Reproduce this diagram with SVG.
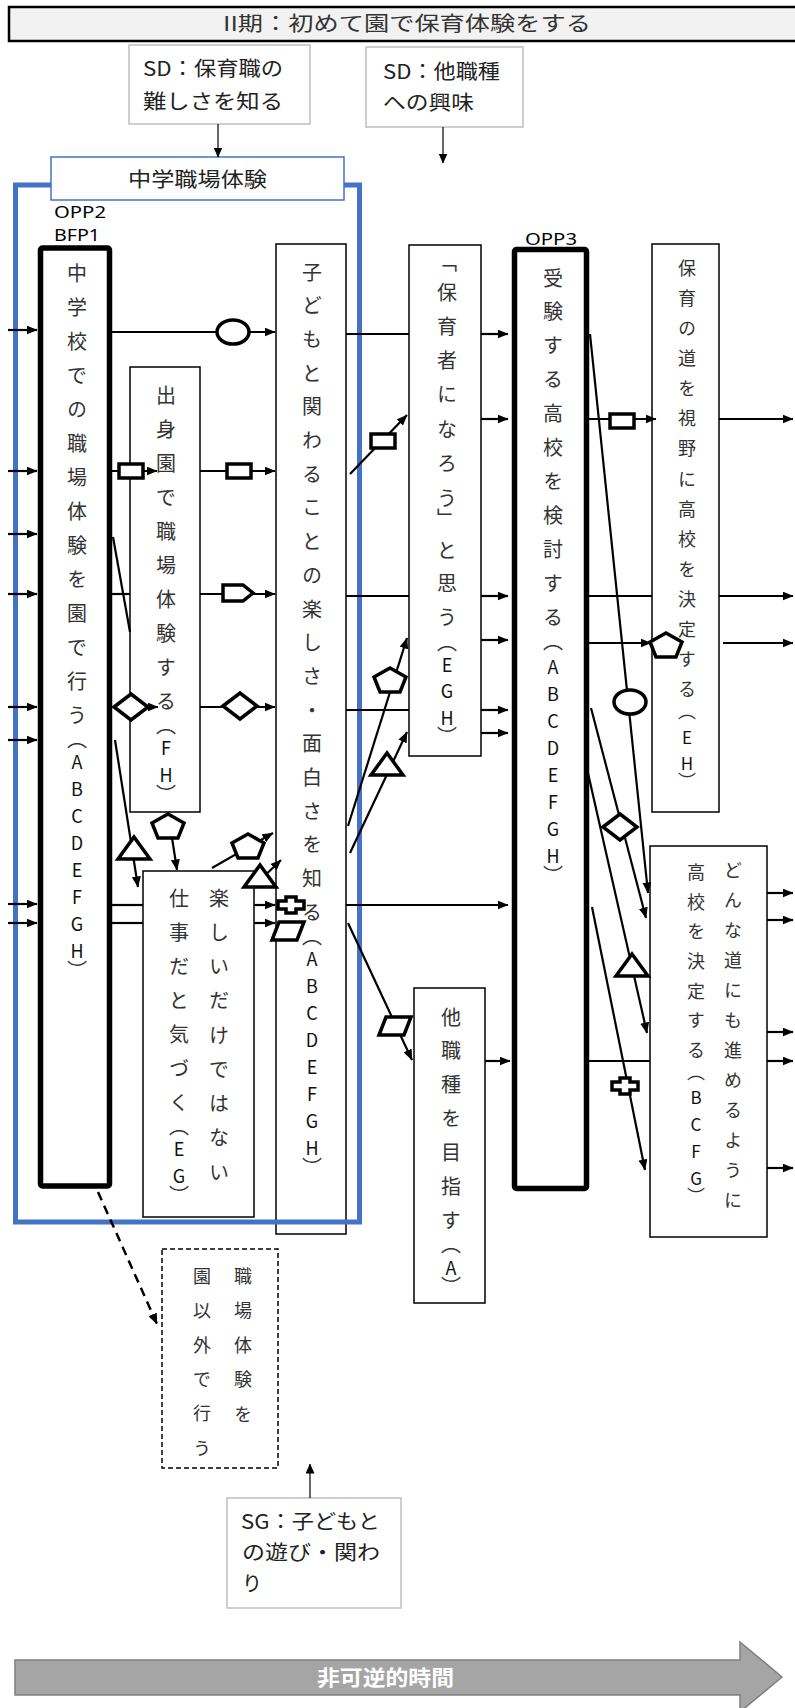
<svg xmlns="http://www.w3.org/2000/svg" width="795" height="1708" viewBox="0 0 795 1708">
<style>
.box{fill:#fff;stroke:#000;stroke-width:1.5}
.thick{fill:#fff;stroke:#000;stroke-width:5.5}
.sd{fill:#fff;stroke:#bfbfbf;stroke-width:1.5}
.ht{font-family:"Noto Sans CJK JP","Noto Sans",sans-serif;font-size:20px;fill:#222}
.vv{font-family:"Noto Sans CJK JP",sans-serif;font-size:20px;fill:#333;writing-mode:vertical-rl;text-orientation:upright;dominant-baseline:central}
.s18{font-size:18px}
.vl{font-size:18px;fill:#111}
.vl17{font-size:17px;fill:#111}
.lbl{font-family:"Noto Sans",sans-serif;font-size:17px;fill:#000}
.ln{stroke:#000;stroke-width:2.2;fill:none}
.ar{marker-end:url(#ah)}
.mk{fill:#fff;stroke:#000;stroke-width:3.5;stroke-linejoin:miter}
</style>
<defs>
<marker id="ah" viewBox="0 0 11 9" refX="10.5" refY="4.5" markerWidth="11" markerHeight="9" markerUnits="userSpaceOnUse" orient="auto"><path d="M0,0 L11,4.5 L0,9 Z" fill="#000"/></marker>
<marker id="ahs" viewBox="0 0 10 9" refX="9.5" refY="4.5" markerWidth="10" markerHeight="9" markerUnits="userSpaceOnUse" orient="auto"><path d="M0,0 L10,4.5 L0,9 Z" fill="#000"/></marker>
<ellipse id="m-ell" rx="16" ry="12" class="mk"/>
<rect id="m-rect" x="-12" y="-7" width="24" height="14" class="mk"/>
<path id="m-home" d="M-15,-8 H5 L15,0 L5,8 H-15 Z" class="mk"/>
<path id="m-dia" d="M-17,0 L0,-13 L17,0 L0,13 Z" class="mk"/>
<path id="m-tri" d="M0,-11 L16,11 L-16,11 Z" class="mk"/>
<path id="m-pent" d="M0,-12 L16,-3 L10,12 L-10,12 L-16,-3 Z" class="mk"/>
<path id="m-cross" d="M-5,-8 H5 V-4 H13 V4 H5 V8 H-5 V4 H-13 V-4 H-5 Z" class="mk"/>
<path id="m-par" d="M-9,-9 H16 L9,9 H-16 Z" class="mk"/>
</defs>

<g id="title">
<rect x="9" y="7" width="800" height="34" fill="#f2f2f2" stroke="#000" stroke-width="2.5"/>
<text class="ht" x="223" y="31" textLength="368" lengthAdjust="spacingAndGlyphs" style="fill:#333">II期：初めて園で保育体験をする</text>
</g>

<g id="sd1">
<rect class="sd" x="129" y="45" width="181" height="79"/>
<text class="ht" x="143" y="76" textLength="140" lengthAdjust="spacingAndGlyphs">SD：保育職の</text>
<text class="ht" x="143" y="109" textLength="140" lengthAdjust="spacingAndGlyphs">難しさを知る</text>
</g>
<g id="sd2">
<rect class="sd" x="366" y="47" width="157" height="80"/>
<text class="ht" x="383" y="79" textLength="117" lengthAdjust="spacingAndGlyphs">SD：他職種</text>
<text class="ht" x="383" y="110" textLength="91" lengthAdjust="spacingAndGlyphs">への興味</text>
</g>

<g id="n1">
<rect class="thick" x="40.5" y="248" width="69" height="938" rx="2"/>
<text class="vv" x="77" y="263"><tspan style="letter-spacing:14px">中学校での職場体験を園で行</tspan><tspan style="letter-spacing:4px">う（</tspan><tspan class="vl" style="letter-spacing:9px">ABCDEFG</tspan><tspan class="vl">H</tspan>）</text>
</g>
<g id="n2">
<rect class="box" x="130" y="367" width="70" height="445"/>
<text class="vv" x="166" y="385"><tspan style="letter-spacing:14px">出身園で職場体験す</tspan><tspan style="letter-spacing:4px">る（</tspan><tspan class="vl" style="letter-spacing:9px">F</tspan><tspan class="vl">H</tspan>）</text>
</g>
<g id="n3">
<rect class="box" x="276" y="244" width="70" height="990"/>
<text class="vv" x="312" y="262"><tspan style="letter-spacing:13.7px">子どもと関わることの楽しさ・面白さを知</tspan><tspan style="letter-spacing:4px">る（</tspan><tspan class="vl" style="letter-spacing:9px">ABCDEFG</tspan><tspan class="vl">H</tspan>）</text>
</g>
<g id="n4">
<rect class="box" x="143" y="871" width="111" height="346"/>
<text class="vv" x="219" y="888" style="letter-spacing:14.25px">楽しいだけではない</text>
<text class="vv" x="179" y="888"><tspan style="letter-spacing:14px">仕事だと気づ</tspan><tspan style="letter-spacing:4px">く（</tspan><tspan class="vl" style="letter-spacing:9px">E</tspan><tspan class="vl">G</tspan>）</text>
</g>
<g id="n5">
<rect class="box" x="409" y="245" width="72" height="511"/>
<text class="vv" x="447" y="252"><tspan style="letter-spacing:10px">「</tspan><tspan style="letter-spacing:14.3px">保育者になろ</tspan><tspan>う</tspan><tspan style="letter-spacing:12px">」</tspan><tspan style="letter-spacing:13.5px">と思</tspan><tspan style="letter-spacing:5px">う</tspan><tspan style="letter-spacing:4px">（</tspan><tspan class="vl" style="letter-spacing:8.5px">EG</tspan><tspan class="vl">H</tspan>）</text>
</g>
<g id="n6">
<rect class="thick" x="514.5" y="249.5" width="72" height="939" rx="2"/>
<text class="vv" x="553" y="268"><tspan style="letter-spacing:13.9px">受験する高校を検討す</tspan><tspan style="letter-spacing:4px">る</tspan><tspan style="letter-spacing:7px">（</tspan><tspan class="vl" style="letter-spacing:9px">ABCDEFG</tspan><tspan class="vl">H</tspan>）</text>
</g>
<g id="n7">
<rect class="box" x="652" y="244" width="67" height="568"/>
<text class="vv s18" x="687" y="259"><tspan style="letter-spacing:12.1px">保育の道を視野に高校を決定す</tspan><tspan style="letter-spacing:4px">る</tspan><tspan style="letter-spacing:8.5px">（</tspan><tspan class="vl17" style="letter-spacing:9px">E</tspan><tspan class="vl17">H</tspan>）</text>
</g>
<g id="n8">
<rect class="box" x="650" y="846" width="117" height="391"/>
<text class="vv s18" x="733" y="861" style="letter-spacing:12px">どんな道にも進めるように</text>
<text class="vv s18" x="696" y="863"><tspan style="letter-spacing:11.7px">高校を決定す</tspan><tspan style="letter-spacing:4px">る</tspan><tspan style="letter-spacing:7.5px">（</tspan><tspan class="vl17" style="letter-spacing:10px">BCF</tspan><tspan class="vl17">G</tspan>）</text>
</g>
<g id="n9">
<rect class="box" x="414" y="988" width="71" height="315"/>
<text class="vv" x="451" y="1007"><tspan style="letter-spacing:13.8px">他職種を目指</tspan><tspan style="letter-spacing:4px">す</tspan><tspan style="letter-spacing:5px">（</tspan><tspan class="vl">A</tspan>）</text>
</g>
<g id="n10">
<rect x="162" y="1249" width="116" height="219" fill="#fff" stroke="#000" stroke-width="1.5" stroke-dasharray="5 3"/>
<text class="vv s18" x="243" y="1267" style="letter-spacing:16.5px">職場体験を</text>
<text class="vv s18" x="202" y="1267" style="letter-spacing:16.4px">園以外で行う</text>
</g>
<g id="sg">
<rect class="sd" x="227" y="1498" width="174" height="110"/>
<text class="ht" x="241" y="1529" textLength="139" lengthAdjust="spacingAndGlyphs">SG：子どもと</text>
<text class="ht" x="242" y="1560" textLength="138" lengthAdjust="spacingAndGlyphs">の遊び・関わ</text>
<text class="ht" x="242" y="1591">り</text>
</g>

<g id="frame">
<rect x="15.5" y="185" width="344" height="1037" fill="none" stroke="#4472c4" stroke-width="5"/>
</g>
<g id="label">
<rect x="51" y="157" width="293" height="43" fill="#fff" stroke="#4472c4" stroke-width="1.5"/>
<text class="ht" x="128" y="187" textLength="139" lengthAdjust="spacingAndGlyphs">中学職場体験</text>
</g>
<g id="opp-labels">
<text class="lbl" x="54" y="218" textLength="52" lengthAdjust="spacingAndGlyphs">OPP2</text>
<text class="lbl" x="54" y="241" textLength="46" lengthAdjust="spacingAndGlyphs">BFP1</text>
<text class="lbl" x="525" y="245" textLength="52" lengthAdjust="spacingAndGlyphs">OPP3</text>
</g>

<g id="time">
<polygon points="15,1660 740,1660 740,1642 782,1677 740,1712 740,1695 15,1695" fill="#a5a5a5" stroke="#7f7f7f" stroke-width="1.5"/>
<text x="317" y="1685" textLength="137" lengthAdjust="spacingAndGlyphs" style="font-family:'Noto Sans CJK JP',sans-serif;font-size:21px;font-weight:bold;fill:#fff">非可逆的時間</text>
</g>

<g id="connectors">
<line x1="218" y1="124" x2="218" y2="157" stroke="#000" stroke-width="1.2" marker-end="url(#ahs)"/>
<line x1="443" y1="127" x2="443" y2="163" stroke="#000" stroke-width="1.2" marker-end="url(#ahs)"/>
<line x1="310" y1="1498" x2="310" y2="1464" stroke="#000" stroke-width="1.2" marker-end="url(#ahs)"/>
<line x1="98" y1="1192" x2="157" y2="1324" stroke="#000" stroke-width="2.5" stroke-dasharray="9 6" marker-end="url(#ah)"/>

<line class="ln ar" x1="8" y1="330" x2="37" y2="330"/>
<line class="ln ar" x1="8" y1="471" x2="37" y2="471"/>
<line class="ln ar" x1="8" y1="534" x2="37" y2="534"/>
<line class="ln ar" x1="8" y1="594" x2="37" y2="594"/>
<line class="ln ar" x1="8" y1="707" x2="37" y2="707"/>
<line class="ln ar" x1="8" y1="740" x2="37" y2="740"/>
<line class="ln ar" x1="8" y1="904" x2="37" y2="904"/>
<line class="ln ar" x1="8" y1="923" x2="37" y2="923"/>

<line class="ln ar" x1="112" y1="332" x2="275" y2="332"/>
<use href="#m-ell" x="233" y="332"/>
<line class="ln ar" x1="112" y1="471" x2="157" y2="471"/>
<use href="#m-rect" x="131" y="471"/>
<line class="ln ar" x1="200" y1="471" x2="275" y2="471"/>
<use href="#m-rect" x="239" y="471"/>
<line class="ln" x1="112" y1="594" x2="130" y2="594"/>
<line class="ln ar" x1="200" y1="594" x2="275" y2="594"/>
<use href="#m-home" x="238" y="593"/>
<line class="ln ar" x1="112" y1="707" x2="158" y2="707"/>
<use href="#m-dia" x="131" y="707"/>
<line class="ln ar" x1="200" y1="707" x2="275" y2="707"/>
<use href="#m-dia" x="240" y="706"/>
<line class="ln" x1="113" y1="537" x2="130" y2="632"/>
<line class="ln ar" x1="115" y1="740" x2="138" y2="887"/>
<use href="#m-tri" x="134" y="848"/>
<line class="ln ar" x1="168" y1="812" x2="177" y2="870"/>
<use href="#m-pent" x="168" y="826"/>
<line class="ln ar" x1="212" y1="868" x2="273" y2="833"/>
<use href="#m-pent" x="248" y="846"/>
<line class="ln ar" x1="255" y1="885" x2="281" y2="860"/>
<use href="#m-tri" x="260" y="876"/>
<line class="ln" x1="112" y1="905" x2="143" y2="905"/>
<line class="ln ar" x1="254" y1="905" x2="275" y2="905"/>
<use href="#m-cross" x="291" y="905"/>
<line class="ln" x1="112" y1="923" x2="143" y2="923"/>
<line class="ln ar" x1="254" y1="923" x2="275" y2="923"/>
<use href="#m-par" x="288" y="931"/>

<line class="ln" x1="346" y1="334" x2="409" y2="334"/>
<line class="ln ar" x1="481" y1="334" x2="508" y2="334"/>
<line class="ln ar" x1="350" y1="474" x2="407" y2="415"/>
<use href="#m-rect" x="383" y="441"/>
<line class="ln ar" x1="481" y1="419" x2="508" y2="419"/>
<line class="ln ar" x1="589" y1="419" x2="656" y2="419"/>
<use href="#m-rect" x="622" y="421"/>
<line class="ln ar" x1="719" y1="419" x2="793" y2="419"/>
<line class="ln" x1="346" y1="596" x2="409" y2="596"/>
<line class="ln ar" x1="481" y1="596" x2="508" y2="596"/>
<line class="ln" x1="589" y1="596" x2="652" y2="596"/>
<line class="ln ar" x1="719" y1="596" x2="793" y2="596"/>
<line class="ln ar" x1="481" y1="640" x2="508" y2="640"/>
<line class="ln ar" x1="348" y1="826" x2="407" y2="638"/>
<use href="#m-pent" x="390" y="680"/>
<line class="ln" x1="346" y1="710" x2="409" y2="710"/>
<line class="ln ar" x1="481" y1="710" x2="508" y2="710"/>
<line class="ln ar" x1="481" y1="733" x2="508" y2="733"/>
<line class="ln ar" x1="350" y1="853" x2="407" y2="732"/>
<use href="#m-tri" x="387" y="764"/>
<line class="ln ar" x1="346" y1="905" x2="508" y2="905"/>
<line class="ln ar" x1="348" y1="923" x2="412" y2="1060"/>
<use href="#m-par" x="395" y="1026"/>
<line class="ln ar" x1="485" y1="1061" x2="510" y2="1061"/>

<line class="ln ar" x1="589" y1="643" x2="651" y2="643"/>
<use href="#m-pent" x="666" y="645"/>
<line class="ln ar" x1="723" y1="643" x2="793" y2="643"/>
<line class="ln ar" x1="590" y1="334" x2="648" y2="893"/>
<use href="#m-ell" x="630" y="702"/>
<line class="ln ar" x1="591" y1="708" x2="646" y2="918"/>
<use href="#m-dia" x="620" y="827"/>
<line class="ln ar" x1="585" y1="760" x2="647" y2="1033"/>
<use href="#m-tri" x="632" y="965"/>
<line class="ln ar" x1="592" y1="907" x2="645" y2="1170"/>
<use href="#m-cross" x="625" y="1086"/>
<line class="ln" x1="589" y1="1061" x2="650" y2="1061"/>
<line class="ln ar" x1="767" y1="893" x2="793" y2="893"/>
<line class="ln ar" x1="767" y1="920" x2="793" y2="920"/>
<line class="ln ar" x1="767" y1="1032" x2="793" y2="1032"/>
<line class="ln ar" x1="767" y1="1061" x2="793" y2="1061"/>
<line class="ln ar" x1="767" y1="1168" x2="793" y2="1168"/>
</g>
</svg>
